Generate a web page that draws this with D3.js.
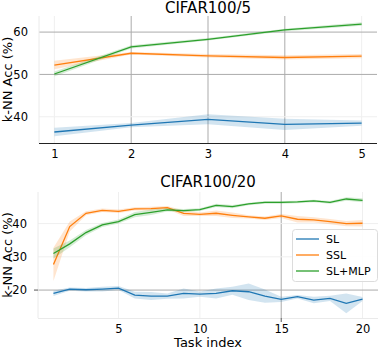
<!DOCTYPE html>
<html>
<head>
<meta charset="utf-8">
<script src="https://cdn.jsdelivr.net/npm/d3@7"></script>
<style>
  body { margin: 0; background: #fff; }
  svg text { font-family: "DejaVu Sans", sans-serif; fill: #000; }
</style>
</head>
<body>
<div id="chart"></div>
<script>
// CIFAR100/5
const tasks5 = [1, 2, 3, 4, 5];
const sl5 = [36.4, 38.0, 39.4, 38.2, 38.5];
const sl5Std = [1.0, 0.5, 1.2, 1.3, 0.6];
const ssl5 = [52.2, 55.0, 54.4, 54.0, 54.3];
const ssl5Std = [1.0, 0.3, 0.4, 0.5, 0.5];
const mlp5 = [50.1, 56.5, 58.3, 60.5, 61.9];
const mlp5Std = [0.6, 0.4, 0.3, 0.3, 0.4];
const xTicks5 = [1, 2, 3, 4, 5];
const yTicks5 = [40, 50, 60];

// CIFAR100/20
const tasks20 = d3.range(1, 21);
const sl20 = [19.0, 20.3, 20.1, 20.3, 20.6, 18.5, 18.2, 18.2, 19.0, 18.8,
              19.0, 19.8, 19.5, 18.2, 17.2, 18.0, 17.0, 17.5, 16.0, 17.3];
const sl20Std = [0.8, 0.5, 0.5, 0.7, 0.6, 1.0, 1.2, 0.8, 1.5, 0.8,
                 1.5, 1.2, 2.5, 2.0, 0.8, 0.5, 1.0, 0.8, 3.0, 0.6];
const ssl20 = [27.7, 39.1, 43.1, 44.0, 43.7, 44.4, 44.5, 44.8, 43.1, 42.8,
               43.1, 42.5, 42.0, 41.6, 42.3, 41.3, 41.1, 40.6, 40.0, 40.1];
const ssl20Std = [5.0, 1.5, 0.6, 0.5, 0.5, 0.5, 0.6, 0.5, 0.8, 0.5,
                  0.8, 0.8, 0.5, 0.5, 0.6, 1.0, 0.8, 0.8, 0.8, 1.0];
const mlp20 = [31.0, 33.9, 37.3, 39.6, 40.6, 42.7, 43.4, 44.1, 43.9, 44.2,
               45.5, 45.1, 45.9, 46.4, 46.4, 46.5, 46.8, 46.4, 47.4, 47.0];
const mlp20Std = [1.5, 1.0, 0.8, 0.6, 0.6, 0.8, 0.8, 0.5, 0.5, 0.4,
                  0.5, 0.5, 0.4, 0.4, 0.4, 0.4, 0.4, 0.4, 0.5, 0.6];
const xTicks20 = [5, 10, 15, 20];
const yTicks20 = [20, 30, 40];

const seriesNames = ["SL", "SSL", "SL+MLP"];
const colors = ["#1f77b4", "#ff7f0e", "#2ca02c"];

const width = 378, height = 350;
const svg = d3.select("#chart").append("svg")
    .attr("width", width)
    .attr("height", height);

function panel(cfg) {
    const x = d3.scaleLinear().domain(cfg.xDomain).range([cfg.left, cfg.right]);
    const y = d3.scaleLinear().domain(cfg.yDomain).range([cfg.bottom, cfg.top]);
    const g = svg.append("g");

    // grid (some lines render darker in the original)
    g.selectAll(".vgrid").data(cfg.xTicks).enter().append("line")
        .attr("x1", d => x(d)).attr("x2", d => x(d))
        .attr("y1", cfg.top).attr("y2", cfg.bottom)
        .attr("stroke", d => cfg.darkX.includes(d) ? "#ababab" : "#efefef")
        .attr("stroke-width", 1);
    g.selectAll(".hgrid").data(cfg.yTicks).enter().append("line")
        .attr("x1", cfg.left).attr("x2", cfg.right)
        .attr("y1", d => y(d)).attr("y2", d => y(d))
        .attr("stroke", d => cfg.darkY.includes(d) ? "#ababab" : "#efefef")
        .attr("stroke-width", 1);

    // bands and lines
    cfg.series.forEach((s, i) => {
        const pts = cfg.xs.map((t, j) => ({t, m: s.mean[j], sd: s.std[j]}));
        g.append("path")
            .datum(pts)
            .attr("fill", colors[i])
            .attr("fill-opacity", 0.2)
            .attr("d", d3.area().x(d => x(d.t)).y0(d => y(d.m - d.sd)).y1(d => y(d.m + d.sd)));
        g.append("path")
            .datum(pts)
            .attr("fill", "none")
            .attr("stroke", colors[i])
            .attr("stroke-width", 1.3)
            .attr("d", d3.line().x(d => x(d.t)).y(d => y(d.m)));
    });

    // spines
    g.append("line")
        .attr("x1", cfg.left).attr("x2", cfg.left)
        .attr("y1", cfg.top).attr("y2", cfg.bottom)
        .attr("stroke", "#eaeaea");
    g.append("line")
        .attr("x1", cfg.left).attr("x2", cfg.right)
        .attr("y1", cfg.bottom + 0.5).attr("y2", cfg.bottom + 0.5)
        .attr("stroke", cfg.bottomSpine);

    // axes (labels only)
    const xAxis = g.append("g")
        .attr("transform", `translate(0,${cfg.bottom})`)
        .call(d3.axisBottom(x).tickValues(cfg.xTicks).tickSize(0).tickPadding(7).tickFormat(d3.format("d")));
    const yAxis = g.append("g")
        .attr("transform", `translate(${cfg.left},0)`)
        .call(d3.axisLeft(y).tickValues(cfg.yTicks).tickSize(0).tickPadding(11).tickFormat(d3.format("d")));
    [xAxis, yAxis].forEach(a => {
        a.select(".domain").remove();
        a.selectAll("text").style("font-size", "11.5px").attr("fill", "#000")
            .style("font-family", "DejaVu Sans, sans-serif");
    });

    // small dark tick marks where visible
    cfg.darkYTicks.forEach(v => {
        g.append("line").attr("x1", cfg.left - 4).attr("x2", cfg.left)
            .attr("y1", y(v)).attr("y2", y(v)).attr("stroke", "#555");
    });
    cfg.darkXTicks.forEach(v => {
        g.append("line").attr("x1", x(v)).attr("x2", x(v))
            .attr("y1", cfg.bottom).attr("y2", cfg.bottom + 4).attr("stroke", "#555");
    });

    // title
    g.append("text")
        .attr("x", (cfg.left + cfg.right) / 2)
        .attr("y", cfg.titleY)
        .attr("text-anchor", "middle")
        .style("font-size", "15px")
        .text(cfg.title);

    // y label
    g.append("text")
        .attr("transform", `translate(12,${(cfg.top + cfg.bottom) / 2}) rotate(-90)`)
        .attr("text-anchor", "middle")
        .style("font-size", "13px")
        .text("k-NN Acc (%)");

    return {x, y, g};
}

panel({
    title: "CIFAR100/5", titleY: 12.5,
    left: 39, right: 377, top: 16, bottom: 143,
    xDomain: [0.8, 5.2], yDomain: [33.8, 63.8],
    xs: tasks5, xTicks: xTicks5, yTicks: yTicks5,
    darkX: [2, 3, 4], darkY: [50, 60], darkYTicks: [], darkXTicks: [],
    bottomSpine: "#222",
    series: [
        {mean: sl5, std: sl5Std},
        {mean: ssl5, std: ssl5Std},
        {mean: mlp5, std: mlp5Std}
    ]
});

const p2 = panel({
    title: "CIFAR100/20", titleY: 187,
    left: 38, right: 378, top: 192, bottom: 318,
    xDomain: [0.05, 20.95], yDomain: [11.6, 49.5],
    xs: tasks20, xTicks: xTicks20, yTicks: yTicks20,
    darkX: [15], darkY: [20], darkYTicks: [20], darkXTicks: [15],
    bottomSpine: "#eaeaea",
    series: [
        {mean: sl20, std: sl20Std},
        {mean: ssl20, std: ssl20Std},
        {mean: mlp20, std: mlp20Std}
    ]
});

// x label
svg.append("text")
    .attr("x", 208)
    .attr("y", 347)
    .attr("text-anchor", "middle")
    .style("font-size", "13px")
    .text("Task index");

// legend
const legend = svg.append("g").attr("transform", "translate(292,229)");
legend.append("rect")
    .attr("x", 0.5).attr("y", 0.5)
    .attr("width", 85).attr("height", 52)
    .attr("rx", 3)
    .attr("fill", "#fff")
    .attr("fill-opacity", 0.85)
    .attr("stroke", "#dcdcdc");
seriesNames.forEach((name, i) => {
    const yy = 10 + i * 16;
    legend.append("line")
        .attr("x1", 4).attr("x2", 27)
        .attr("y1", yy).attr("y2", yy)
        .attr("stroke", colors[i])
        .attr("stroke-width", 1.3);
    legend.append("text")
        .attr("x", 34).attr("y", yy + 4)
        .style("font-size", "11px")
        .text(name);
});
</script>
</body>
</html>
